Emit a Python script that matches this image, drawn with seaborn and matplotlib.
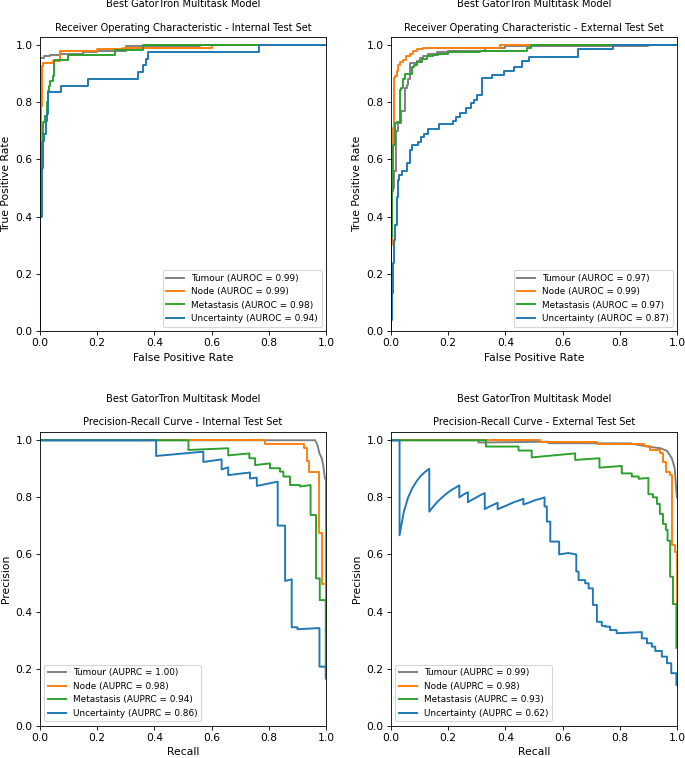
import matplotlib
matplotlib.use("Agg")
import matplotlib.pyplot as plt
import seaborn as sns

# task names and colours (tab10 grey / orange / green / blue)
tasks = ["Tumour", "Node", "Metastasis", "Uncertainty"]
pal = sns.color_palette("tab10")
task_colors = [pal[7], pal[1], pal[2], pal[0]]

auroc_int = [0.99, 0.99, 0.98, 0.94]
auroc_ext = [0.97, 0.99, 0.97, 0.87]
auprc_int = [1.00, 0.98, 0.94, 0.86]
auprc_ext = [0.99, 0.98, 0.93, 0.62]

# ---- ROC, internal test set (points where tpr jumps, drawn as steps) ----
roc_int_tumour_fpr = [0, 0, 0.015, 0.035, 0.07, 0.15, 0.2, 0.3, 0.56, 1.0]
roc_int_tumour_tpr = [0, 0.955, 0.96, 0.965, 0.97, 0.975, 0.98, 0.995, 1.0, 1.0]
roc_int_node_fpr = [0, 0, 0.003, 0.006, 0.012, 0.045, 0.07, 0.2, 0.29, 0.6, 1.0]
roc_int_node_tpr = [0, 0.66, 0.785, 0.925, 0.937, 0.945, 0.98, 0.985, 0.99, 1.0, 1.0]
roc_int_meta_fpr = [0, 0, 0.006, 0.012, 0.017, 0.023, 0.027, 0.031, 0.035, 0.047, 0.05,
                    0.099, 0.262, 0.361, 1.0]
roc_int_meta_tpr = [0, 0.57, 0.66, 0.73, 0.75, 0.8, 0.84, 0.855, 0.875, 0.89, 0.947,
                    0.966, 0.984, 1.0, 1.0]
roc_int_unc_fpr = [0, 0, 0.006, 0.012, 0.015, 0.02, 0.025, 0.029, 0.073, 0.169, 0.344,
                   0.359, 0.37, 0.379, 0.767, 1.0]
roc_int_unc_tpr = [0, 0.4, 0.57, 0.665, 0.69, 0.735, 0.76, 0.836, 0.855, 0.882, 0.905,
                   0.93, 0.95, 0.976, 1.0, 1.0]

# ---- ROC, external test set ----
roc_ext_tumour_fpr = [0, 0, 0.003, 0.009, 0.017, 0.026, 0.035, 0.049, 0.055, 0.06, 0.066,
                      0.09, 0.1, 0.113, 0.13, 0.16, 0.2, 0.33, 0.4, 0.9, 1.0]
roc_ext_tumour_tpr = [0, 0.31, 0.5, 0.56, 0.7, 0.726, 0.77, 0.849, 0.86, 0.88, 0.936,
                      0.945, 0.955, 0.963, 0.968, 0.975, 0.98, 0.99, 0.997, 1.0, 1.0]
roc_ext_node_fpr = [0, 0, 0.003, 0.006, 0.009, 0.014, 0.02, 0.026, 0.031, 0.043, 0.052,
                    0.066, 0.078, 0.09, 0.113, 0.38, 1.0]
roc_ext_node_tpr = [0, 0.3, 0.5, 0.71, 0.885, 0.89, 0.91, 0.93, 0.94, 0.948, 0.96,
                    0.97, 0.98, 0.985, 0.988, 1.0, 1.0]
roc_ext_meta_fpr = [0, 0, 0.003, 0.007, 0.014, 0.02, 0.031, 0.035, 0.043, 0.049, 0.055,
                    0.072, 0.08, 0.09, 0.107, 0.125, 0.148, 0.165, 0.2, 0.31, 0.474, 0.49, 1.0]
roc_ext_meta_tpr = [0, 0.33, 0.49, 0.65, 0.726, 0.73, 0.843, 0.85, 0.88, 0.9, 0.9,
                    0.924, 0.93, 0.94, 0.95, 0.96, 0.965, 0.97, 0.975, 0.98, 0.99, 1.0, 1.0]
roc_ext_unc_fpr = [0, 0, 0.003, 0.006, 0.01, 0.015, 0.02, 0.023, 0.029, 0.038, 0.055,
                   0.068, 0.075, 0.093, 0.105, 0.117, 0.128, 0.169, 0.216, 0.227, 0.24,
                   0.262, 0.28, 0.291, 0.301, 0.318, 0.353, 0.394, 0.429, 0.458, 0.481,
                   0.654, 0.776, 1.0]
roc_ext_unc_tpr = [0, 0.038, 0.132, 0.237, 0.318, 0.371, 0.47, 0.528, 0.545, 0.559, 0.589,
                   0.633, 0.65, 0.662, 0.68, 0.69, 0.705, 0.723, 0.734, 0.749, 0.763,
                   0.779, 0.796, 0.808, 0.826, 0.885, 0.896, 0.91, 0.922, 0.943, 0.957,
                   0.985, 1.0, 1.0]

# ---- Precision-recall, internal test set (curve vertices) ----
pr_int_tumour_rec = [0, 0.962, 0.97, 0.977, 0.985, 0.99, 0.996, 1.0, 1.0]
pr_int_tumour_prec = [1, 1, 0.983, 0.954, 0.937, 0.913, 0.868, 0.86, 0.17]
pr_int_node_rec = [0, 0.787, 0.787, 0.923, 0.923, 0.932, 0.932, 0.941, 0.941, 0.977, 0.977,
                   0.987, 0.987, 1.0]
pr_int_node_prec = [1, 1, 0.987, 0.987, 0.974, 0.974, 0.927, 0.927, 0.89, 0.89, 0.674,
                    0.674, 0.495, 0.495]
pr_int_meta_rec = [0, 0.519, 0.519, 0.658, 0.658, 0.732, 0.732, 0.752, 0.752, 0.804, 0.804,
                   0.839, 0.839, 0.851, 0.851, 0.874, 0.874, 0.909, 0.909, 0.946, 0.946,
                   0.965, 0.965, 0.978, 0.978, 0.999, 0.999]
pr_int_meta_prec = [1, 1, 0.966, 0.972, 0.947, 0.954, 0.937, 0.937, 0.913, 0.919, 0.902,
                    0.902, 0.89, 0.89, 0.873, 0.873, 0.843, 0.843, 0.838, 0.843, 0.738,
                    0.738, 0.516, 0.516, 0.44, 0.44, 0.2]
pr_int_unc_rec = [0, 0.406, 0.406, 0.571, 0.571, 0.635, 0.635, 0.658, 0.658, 0.734, 0.734,
                  0.758, 0.758, 0.831, 0.831, 0.857, 0.857, 0.88, 0.88, 0.9, 0.9, 0.977,
                  0.977, 0.999, 0.999]
pr_int_unc_prec = [1, 1, 0.945, 0.96, 0.924, 0.933, 0.898, 0.905, 0.878, 0.887, 0.866,
                   0.869, 0.84, 0.855, 0.701, 0.701, 0.507, 0.513, 0.345, 0.345, 0.338,
                   0.342, 0.207, 0.207, 0.165]

# ---- Precision-recall, external test set ----
pr_ext_tumour_rec = [0, 0.306, 0.306, 0.55, 0.55, 0.837, 0.895, 0.942, 0.965, 0.982,
                     0.992, 0.998, 1.0]
pr_ext_tumour_prec = [1, 1, 0.992, 0.995, 0.99, 0.989, 0.978, 0.972, 0.963, 0.937,
                      0.902, 0.82, 0.8]
pr_ext_node_rec = [0, 0.52, 0.52, 0.72, 0.72, 0.883, 0.883, 0.907, 0.907, 0.942, 0.942,
                   0.951, 0.951, 0.963, 0.963, 0.974, 0.974, 0.982, 0.982, 0.994, 0.994,
                   1.0, 1.0]
pr_ext_node_prec = [1, 1, 0.993, 0.993, 0.987, 0.987, 0.981, 0.981, 0.966, 0.966, 0.954,
                    0.954, 0.925, 0.925, 0.89, 0.89, 0.878, 0.878, 0.633, 0.633, 0.61,
                    0.61, 0.42]
pr_ext_meta_rec = [0, 0.332, 0.332, 0.446, 0.446, 0.492, 0.492, 0.644, 0.644, 0.729, 0.729,
                   0.807, 0.807, 0.842, 0.842, 0.866, 0.866, 0.9, 0.9, 0.916, 0.916, 0.93,
                   0.93, 0.94, 0.94, 0.951, 0.951, 0.961, 0.961, 0.967, 0.967, 0.976,
                   0.976, 0.986, 0.986, 0.998, 0.998]
pr_ext_meta_prec = [1, 1, 0.978, 0.978, 0.964, 0.964, 0.94, 0.954, 0.931, 0.937, 0.904,
                    0.91, 0.884, 0.884, 0.873, 0.873, 0.865, 0.868, 0.811, 0.811, 0.8,
                    0.8, 0.777, 0.777, 0.742, 0.742, 0.707, 0.707, 0.686, 0.686, 0.648,
                    0.648, 0.522, 0.522, 0.426, 0.426, 0.273]
pr_ext_unc_rec = [0, 0.03, 0.03, 0.045, 0.06, 0.075, 0.09, 0.104, 0.119, 0.134, 0.134,
                  0.149, 0.164, 0.179, 0.194, 0.209, 0.224, 0.239, 0.239, 0.254, 0.269,
                  0.269, 0.284, 0.299, 0.313, 0.328, 0.328, 0.343, 0.358, 0.373, 0.373,
                  0.388, 0.403, 0.418, 0.433, 0.448, 0.463, 0.463, 0.478, 0.493, 0.507,
                  0.522, 0.537, 0.537, 0.545, 0.545, 0.557, 0.557, 0.588, 0.588, 0.62,
                  0.648, 0.648, 0.656, 0.656, 0.679, 0.679, 0.691, 0.691, 0.706, 0.706,
                  0.72, 0.72, 0.737, 0.737, 0.749, 0.749, 0.766, 0.766, 0.789, 0.789,
                  0.877, 0.877, 0.895, 0.895, 0.912, 0.912, 0.924, 0.924, 0.947, 0.947,
                  0.965, 0.965, 0.98, 0.98, 0.998, 0.998]
pr_ext_unc_prec = [1, 1, 0.667, 0.75, 0.8, 0.833, 0.857, 0.875, 0.889, 0.9, 0.75,
                   0.769, 0.786, 0.8, 0.813, 0.824, 0.833, 0.842, 0.8, 0.81, 0.818,
                   0.783, 0.792, 0.8, 0.808, 0.815, 0.759, 0.767, 0.774, 0.781, 0.758,
                   0.765, 0.771, 0.778, 0.784, 0.789, 0.795, 0.775, 0.78, 0.786, 0.791,
                   0.795, 0.8, 0.768, 0.768, 0.715, 0.715, 0.645, 0.645, 0.6, 0.605,
                   0.6, 0.54, 0.54, 0.51, 0.51, 0.499, 0.499, 0.481, 0.481, 0.423,
                   0.423, 0.364, 0.364, 0.35, 0.35, 0.347, 0.347, 0.335, 0.335, 0.324,
                   0.328, 0.306, 0.306, 0.289, 0.289, 0.277, 0.277, 0.262, 0.262, 0.242,
                   0.242, 0.219, 0.219, 0.184, 0.184, 0.143]

roc_int = [(roc_int_tumour_fpr, roc_int_tumour_tpr), (roc_int_node_fpr, roc_int_node_tpr),
           (roc_int_meta_fpr, roc_int_meta_tpr), (roc_int_unc_fpr, roc_int_unc_tpr)]
roc_ext = [(roc_ext_tumour_fpr, roc_ext_tumour_tpr), (roc_ext_node_fpr, roc_ext_node_tpr),
           (roc_ext_meta_fpr, roc_ext_meta_tpr), (roc_ext_unc_fpr, roc_ext_unc_tpr)]
pr_int = [(pr_int_tumour_rec, pr_int_tumour_prec), (pr_int_node_rec, pr_int_node_prec),
          (pr_int_meta_rec, pr_int_meta_prec), (pr_int_unc_rec, pr_int_unc_prec)]
pr_ext = [(pr_ext_tumour_rec, pr_ext_tumour_prec), (pr_ext_node_rec, pr_ext_node_prec),
          (pr_ext_meta_rec, pr_ext_meta_prec), (pr_ext_unc_rec, pr_ext_unc_prec)]

fig, axes = plt.subplots(2, 2, figsize=(685 / 77, 758 / 77), dpi=77)
fig.subplots_adjust(left=0.0584, right=0.9883, top=0.9512, bottom=0.0426,
                    wspace=0.227, hspace=0.3425)

header = "Best GatorTron Multitask Model\n\n"
lw = 1.8


def draw_roc(ax, curves, scores, subset):
    for (fpr, tpr), name, col, sc in zip(curves, tasks, task_colors, scores):
        sns.lineplot(x=fpr, y=tpr, ax=ax, color=col, estimator=None, sort=False,
                     drawstyle="steps-post", linewidth=lw,
                     label=f"{name} (AUROC = {sc:.2f})")
    ax.set_xlim(0.0, 1.0)
    ax.set_ylim(0.0, 1.028)
    ax.set_xlabel("False Positive Rate")
    ax.set_ylabel("True Positive Rate")
    ax.set_title(header + f"Receiver Operating Characteristic - {subset} Test Set",
                 fontsize=9.2)
    ax.legend(loc="lower right", fontsize="small")


def draw_pr(ax, curves, scores, subset):
    for (rec, prec), name, col, sc in zip(curves, tasks, task_colors, scores):
        sns.lineplot(x=rec, y=prec, ax=ax, color=col, estimator=None, sort=False,
                     linewidth=lw, label=f"{name} (AUPRC = {sc:.2f})")
    ax.set_xlim(0.0, 1.0)
    ax.set_ylim(0.0, 1.03)
    ax.set_xlabel("Recall")
    ax.set_ylabel("Precision")
    ax.set_title(header + f"Precision-Recall Curve - {subset} Test Set", fontsize=9.2)
    ax.legend(loc="lower left", fontsize="small")


draw_roc(axes[0, 0], roc_int, auroc_int, "Internal")
draw_roc(axes[0, 1], roc_ext, auroc_ext, "External")
draw_pr(axes[1, 0], pr_int, auprc_int, "Internal")
draw_pr(axes[1, 1], pr_ext, auprc_ext, "External")

fig.savefig("out.png", dpi=77)
